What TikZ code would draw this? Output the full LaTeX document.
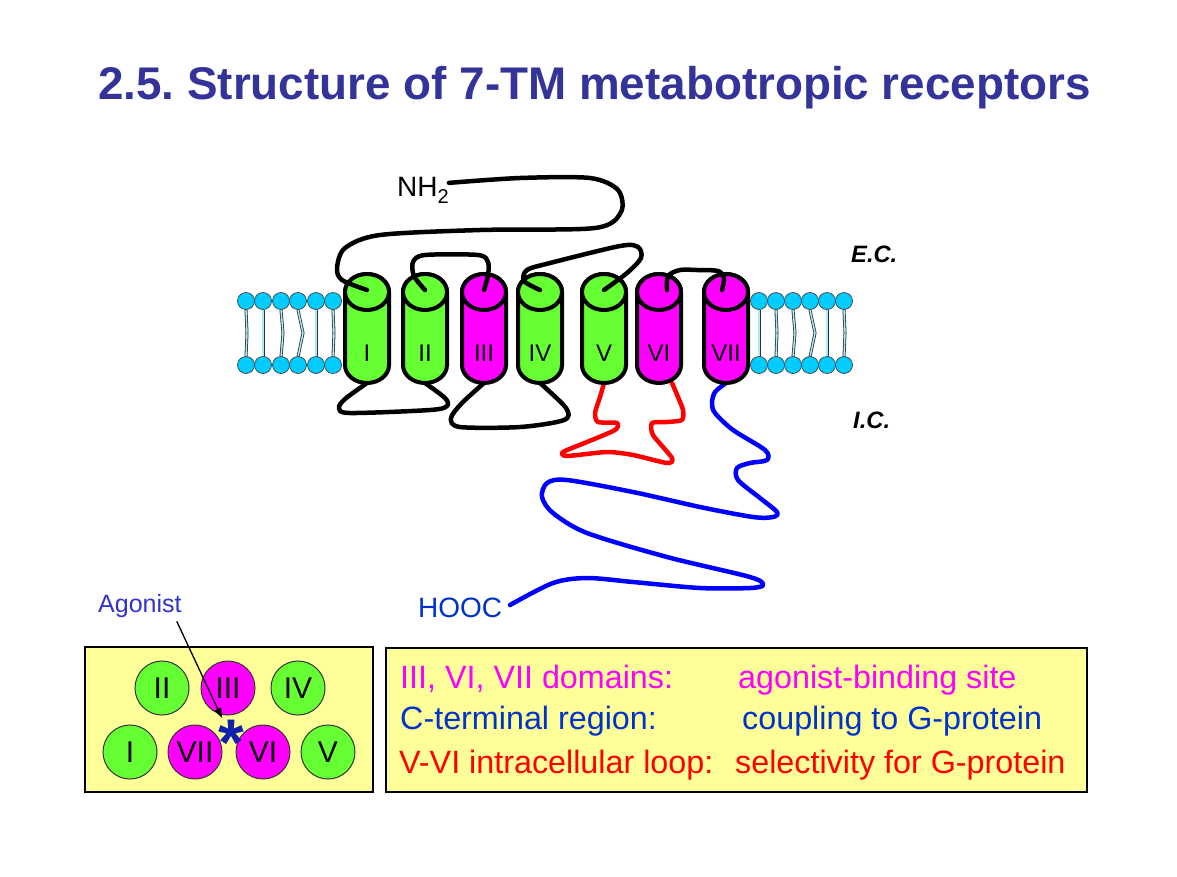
\documentclass[tikz,border=0pt]{standalone}
\usepackage{fontspec}
\setmainfont{Liberation Sans}
\usepackage{tikz}
\usetikzlibrary{arrows.meta}
\definecolor{tmgreen}{RGB}{102,255,51}
\definecolor{tmpink}{RGB}{255,0,255}
\definecolor{headblue}{RGB}{0,204,255}
\definecolor{titleblue}{RGB}{51,51,153}
\definecolor{ctblue}{RGB}{0,51,204}
\definecolor{agoblue}{RGB}{51,51,204}
\definecolor{starblue}{RGB}{17,34,170}
\definecolor{boxyellow}{RGB}{255,255,153}
\frenchspacing
\newcommand{\fs}[1]{\fontsize{#1}{#1}\selectfont}
\newcommand{\drawHelix}[4]{
  \draw[helix, fill=#3] (#2-22,292) -- (#2-22,365) arc[start angle=180, end angle=0, x radius=22, y radius=18] -- (#2+22,292) arc[start angle=0, end angle=-180, x radius=22, y radius=18] -- cycle;
  \draw[helix, fill=#3] (#2,292) ellipse[x radius=22, y radius=18];
  \node[font=\fs{24}] (#1) at (#2,353) {#4};
}

\begin{document}
\begin{tikzpicture}[x=1pt, y=-1pt,
  helix/.style={line width=4pt, line join=round},
  strand/.style={line width=4.5pt, line cap=round, line join=round},
  head/.style={fill=headblue, draw=black!75, line width=0.7pt},
  tail/.style={draw=black!80, double=headblue!35, double distance=1.4pt, line width=0.8pt},
  disc/.style={circle, draw=black!80, line width=1pt, minimum size=54pt, inner sep=0pt, font=\fs{30}},
  txt/.style={anchor=base west, inner sep=0pt}]
  \fill[white] (0,0) rectangle (1177,876);
  \useasboundingbox (0,0) rectangle (1177,876);

  % Title
  \node[txt, font=\fs{45.8}\bfseries, text=titleblue] (title) at (98,99) {2.5. Structure of 7-TM metabotropic receptors};

  % Helix ends
  \foreach \n/\x in {h1/367,h2/425,h3/484,h4/540,h5/604,h6/659,h7/726} {
    \coordinate (\n Top) at (\x,290);
    \coordinate (\n Bot) at (\x,383);
  }

  % Lipids
  \foreach \x/\d in {246/1,263/0,281/2,298/5,316/0,333/1,759/0,776/1,793/2,810/5,827/0,844/1} {
    \draw[tail] (\x,310) -- (\x+\d,333) -- (\x,357);
    \draw[head] (\x,301) circle[radius=8.5];
    \draw[head] (\x,365) circle[radius=8.5];
  }

  % Intracellular loops
  \draw[strand] plot[smooth, tension=0.5] coordinates {(h1Bot) (345,399) (339,408) (350,413) (430,410) (447,406) (445,398) (h2Bot)};
  \draw[strand] plot[smooth, tension=0.5] coordinates {(h3Bot) (462,403) (451,418) (460,427) (520,427) (564,420) (566,408) (h4Bot)};
  \draw[strand, red] plot[smooth, tension=0.4] coordinates {(h5Bot) (600,397) (595,413) (598,422) (617,423) (615,430) (587,442) (563,452) (567,456) (607,452) (633,455) (667,463) (672,458) (653,435) (652,423) (667,422) (682,420) (683,410) (678,397) ([xshift=13pt]h6Bot)};
  \draw[strand, blue] plot[smooth, tension=0.5] coordinates {(h7Bot) (715,392) (712,403) (715,413) (733,430) (765,450) (767,460) (750,463) (737,468) (738,480) (760,498) (777,512) (773,517) (753,517) (700,507) (633,492) (567,480) (547,483) (542,497) (553,513) (587,533) (667,557) (750,577) (763,585) (750,588) (700,588) (633,582) (587,578) (553,583) (510,605)};

  % Helices
  \drawHelix{h1}{367}{tmgreen}{I}
  \drawHelix{h2}{425}{tmgreen}{II}
  \drawHelix{h3}{484}{tmpink}{III}
  \drawHelix{h4}{540}{tmgreen}{IV}
  \drawHelix{h5}{604}{tmgreen}{V}
  \drawHelix{h6}{659}{tmpink}{VI}
  \drawHelix{h7}{726}{tmpink}{VII}

  % Extracellular loops
  \node[txt, font=\fs{28}] (nh) at (397,196) {NH\raisebox{-7pt}{\fs{20}2}};
  \draw[strand] plot[smooth, tension=0.5] coordinates {([yshift=7pt]nh.east) (520,178) (590,178) (618,190) (621,212) (595,228) (480,230) (380,235) (345,248) (337,268) (342,280) (h1Top)};
  \draw[strand] plot[smooth, tension=0.5] coordinates {(h2Top) (414,276) (413,262) (425,255) (478,255) (488,262) (488,275) (h3Top)};
  \draw[strand] plot[smooth, tension=0.5] coordinates {(h4Top) (524,281) (527,270) (550,263) (620,246) (638,247) (641,258) (627,273) (h5Top)};
  \draw[strand] plot[smooth, tension=0.5] coordinates {([xshift=8pt]h6Top) (668,276) (680,270) (697,270) (718,271) (724,278) ([xshift=-4pt]h7Top)};

  % Labels
  \node[txt, font=\fs{28}, text=ctblue] (hooc) at (418,617) {HOOC};
  \node[txt, font=\fs{23.7}\bfseries\itshape] (ec) at (851,262) {E.C.};
  \node[txt, font=\fs{23.7}\bfseries\itshape] (ic) at (853,428) {I.C.};

  % Top view
  \draw[fill=boxyellow, line width=1.3pt] (85,647) rectangle (373,792);
  \node[disc, fill=tmgreen] (cII) at (162,688) {II};
  \node[disc, fill=tmpink] (cIII) at (228,688) {III};
  \node[disc, fill=tmgreen] (cIV) at (298,688) {IV};
  \node[disc, fill=tmgreen] (cI) at (130,752) {I};
  \node[disc, fill=tmpink] (cVII) at (195,752) {VII};
  \node[disc, fill=tmpink] (cVI) at (263,752) {VI};
  \node[disc, fill=tmgreen] (cV) at (328,752) {V};
  \node[anchor=base, inner sep=0pt, font=\fs{66}\bfseries, text=starblue] (star) at (231,765) {*};
  \node[txt, font=\fs{25}, text=agoblue] (ago) at (98,612) {Agonist};
  \coordinate (agoTip) at (222,718);
  \draw[line width=1.3pt, -{Triangle[length=10pt, width=7pt]}] ([xshift=-5pt, yshift=-4pt]ago.south east) -- (agoTip);

  % Legend
  \draw[fill=boxyellow, line width=1.3pt] (386,648) rectangle (1087,792);
  \node[txt, font=\fs{32.3}, text=tmpink] (l1) at (400,688) {III, VI, VII domains:};
  \node[txt, font=\fs{32.3}, text=tmpink] (r1) at (738,688) {agonist-binding site};
  \node[txt, font=\fs{32.3}, text=ctblue] (l2) at (400,729) {C-terminal region:};
  \node[txt, font=\fs{32.3}, text=ctblue] (r2) at (742,729) {coupling to G-protein};
  \node[txt, font=\fs{32.3}, text=red] (l3) at (399,773) {V-VI intracellular loop:};
  \node[txt, font=\fs{32.3}, text=red] (r3) at (735,773) {selectivity for G-protein};
\end{tikzpicture}
\end{document}
